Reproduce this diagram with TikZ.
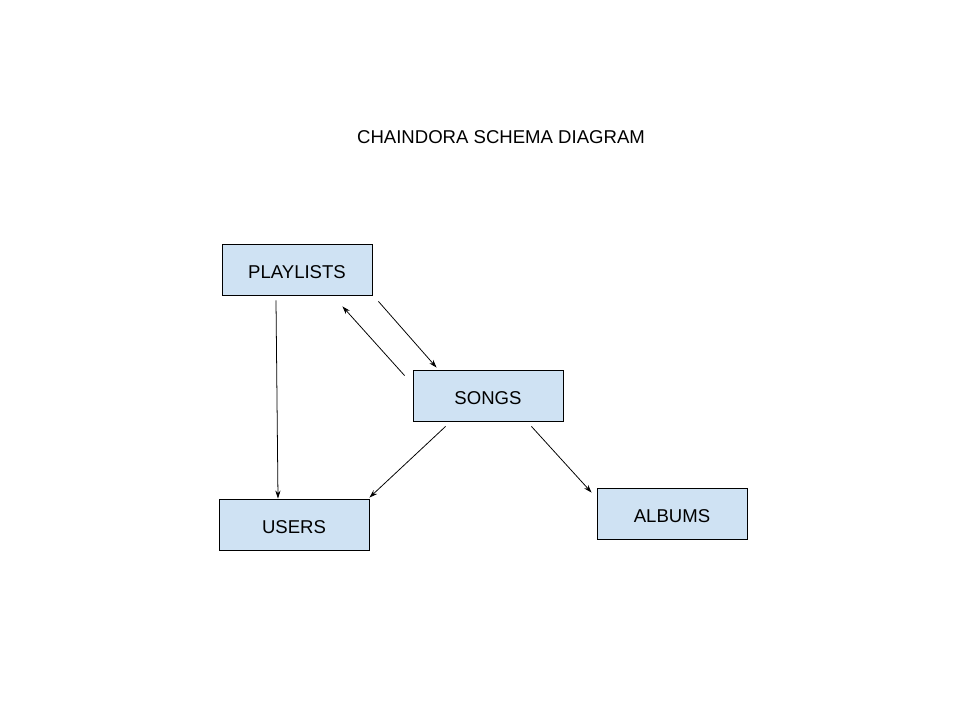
\documentclass[tikz,border=0pt]{standalone}
\usepackage{fontspec}
\setmainfont{Liberation Sans}
\usetikzlibrary{arrows.meta,positioning,calc}
\definecolor{tablakek}{HTML}{CFE2F3}
\tikzset{
  tabla/.style={draw,line width=0.6pt,fill=tablakek,minimum width=3.75cm,
    minimum height=1.275cm,inner sep=0pt,text height=12.2pt,text depth=0pt},
  nyil/.style={line width=0.55pt,-{Stealth[length=2mm,width=1.3mm]}},
}

\begin{document}
\begin{tikzpicture}[x=0.025cm,y=-0.025cm,font=\fontsize{13.2}{16}\selectfont]
  \useasboundingbox[fill=white] (0,0) rectangle (960,720);
  \node (cim) at (501,137) {CHAINDORA SCHEMA DIAGRAM};
  \node[tabla] (playlists) at (297,269.5) {PLAYLISTS};
  \node[tabla] (songs) at (488,395.5) {SONGS};
  \node[tabla] (users) at (294,524.5) {USERS};
  \node[tabla] (albums) at (672,513.5) {ALBUMS};
  \draw[nyil] ($(playlists.south)+(-21,5)$) -- ($(users.north)+(-16,0)$);
  \draw[nyil] ($(songs.north west)+(-8,6)$) -- ($(playlists.south east)+(-30,11)$);
  \draw[nyil] ($(playlists.south east)+(6,6)$) -- ($(songs.north west)+(24,-2)$);
  \draw[nyil] ($(songs.south west)+(33,5)$) -- ($(users.north east)+(0,-1)$);
  \draw[nyil] ($(songs.south east)+(-32,5)$) -- ($(albums.north west)+(-5,5)$);
\end{tikzpicture}
\end{document}
